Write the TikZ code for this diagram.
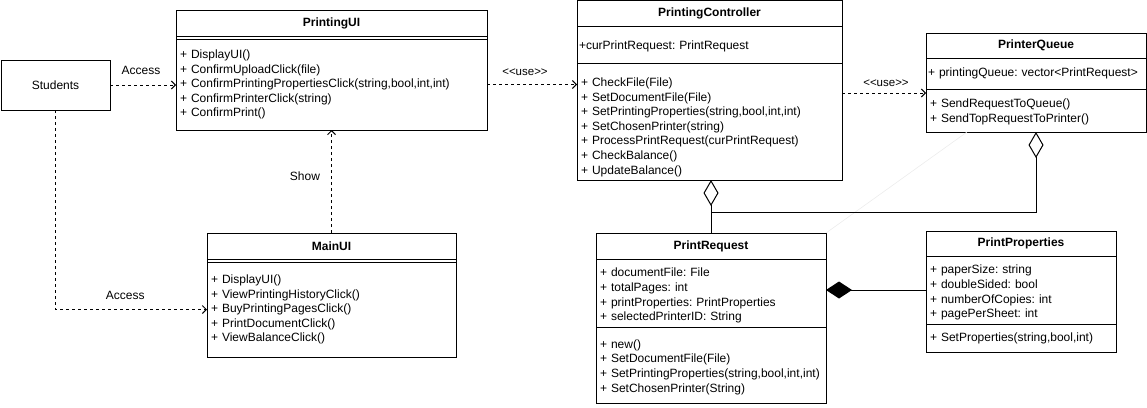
\documentclass[tikz,border=0pt]{standalone}
\usepackage{fontspec}
\setmainfont{Liberation Sans}
\usetikzlibrary{arrows.meta,positioning}
\frenchspacing

\tikzset{
  umlhead/.style={draw, anchor=north west, outer sep=0pt, inner sep=0pt,
    font=\fontsize{12}{14.6}\selectfont\bfseries, minimum width=#1},
  umlpart/.style={draw, anchor=north west, outer sep=0pt, inner xsep=4pt,
    inner ysep=0pt, align=left, text width=#1},
  depend/.style={dash pattern=on 3pt off 3pt,
    -{Straight Barb[length=4pt,width=8pt]}},
  aggr/.style={{Diamond[open,length=26pt,width=15pt]}-},
  compo/.style={{Diamond[length=26pt,width=17pt]}-},
  lbl/.style={inner sep=1pt}
}

\begin{document}
\begin{tikzpicture}[x=1pt,y=-1pt,line width=1pt,
  font=\fontsize{12}{14.6}\selectfont]
\useasboundingbox (0,0) rectangle (1147,407);

% actor
\node[draw, outer sep=0pt, minimum width=109pt, minimum height=50pt]
  (students) at (55.5,85) {Students};

% PrintingUI
\node[umlhead=311pt, minimum height=26pt] (uiH) at (176,10) {PrintingUI};
\node[umlpart=303pt, minimum height=3pt] (uiA) at (uiH.south west) {};
\node[umlpart=303pt, minimum height=91pt] (uiM) at (uiA.south west)
  {+ DisplayUI()\\
   + ConfirmUploadClick(file)\\
   + ConfirmPrintingPropertiesClick(string,bool,int,int)\\
   + ConfirmPrinterClick(string)\\
   + ConfirmPrint()};

% MainUI
\node[umlhead=249pt, minimum height=26pt] (mainH) at (207,233) {MainUI};
\node[umlpart=241pt, minimum height=3pt] (mainA) at (mainH.south west) {};
\node[umlpart=241pt, minimum height=95pt] (mainM) at (mainA.south west)
  {+ DisplayUI()\\
   + ViewPrintingHistoryClick()\\
   + BuyPrintingPagesClick()\\
   + PrintDocumentClick()\\
   + ViewBalanceClick()};

% PrintingController
\node[umlhead=265pt, minimum height=25.5pt] (ctrlH) at (577,0.5) {PrintingController};
\node[umlpart=261pt, inner xsep=2pt, minimum height=37pt] (ctrlA) at (ctrlH.south west)
  {\rule{0pt}{13pt}+curPrintRequest: PrintRequest};
\node[umlpart=257pt, minimum height=117pt] (ctrlM) at (ctrlA.south west)
  {\rule{0pt}{20pt}+ CheckFile(File)\\
   + SetDocumentFile(File)\\
   + SetPrintingProperties(string,bool,int,int)\\
   + SetChosenPrinter(string)\\
   + ProcessPrintRequest(curPrintRequest)\\
   + CheckBalance()\\
   + UpdateBalance()};

% PrinterQueue
\node[umlhead=220pt, minimum height=25pt] (queueH) at (926,33) {PrinterQueue};
\node[umlpart=216pt, inner xsep=2pt, minimum height=31pt] (queueA) at (queueH.south west)
  {+~printingQueue:~vector<PrintRequest>};
\node[umlpart=212pt, minimum height=43pt] (queueM) at (queueA.south west)
  {\rule{0pt}{12pt}+ SendRequestToQueue()\\
   + SendTopRequestToPrinter()};

% PrintRequest
\node[umlhead=230pt, minimum height=26pt] (reqH) at (596,233) {PrintRequest};
\node[umlpart=222pt, minimum height=68pt] (reqA) at (reqH.south west)
  {\rule{0pt}{14pt}+ documentFile: File\\
   + totalPages: int\\
   + printProperties: PrintProperties\\
   + selectedPrinterID: String};
\node[umlpart=222pt, minimum height=76pt] (reqM) at (reqA.south west)
  {\rule{0pt}{13pt}+ new()\\
   + SetDocumentFile(File)\\
   + SetPrintingProperties(string,bool,int,int)\\
   + SetChosenPrinter(String)};

% PrintProperties
\node[umlhead=190pt, minimum height=25pt] (propsH) at (926,231) {PrintProperties};
\node[umlpart=182pt, minimum height=68pt] (propsA) at (propsH.south west)
  {\rule{0pt}{14pt}+ paperSize: string\\
   + doubleSided: bool\\
   + numberOfCopies: int\\
   + pagePerSheet: int};
\node[umlpart=182pt, minimum height=28pt] (propsM) at (propsA.south west)
  {+ SetProperties(string,bool,int)};

% connectors
\coordinate (qin) at ([yshift=-4pt]queueM.north west);
\coordinate (bend) at ([yshift=21pt]reqH.north);

\draw[gray!15, line width=0.6pt] (reqH.north east) -- ([xshift=41pt]queueM.south west);

\draw[depend] (students.east) -- (students.east -| uiM.west)
  node[lbl, midway, above=9pt, xshift=-2pt] (accA) {Access};
\draw[depend] (students.south) |- (mainM.west)
  node[lbl, pos=0.73, above=8pt] (accB) {Access};
\draw[depend] (mainH.north) -- (mainH.north |- uiM.south)
  node[lbl, pos=0.55, left=10pt] (show) {Show};
\draw[depend] (uiM.east) -- (uiM.east -| ctrlM.west)
  node[lbl, midway, above=7pt, xshift=-7pt, font=\fontsize{11.5}{13}\selectfont] (useA) {<{}<use>{}>};
\draw[depend] (qin -| ctrlM.east) -- (qin)
  node[lbl, midway, above=5pt, xshift=2pt, font=\fontsize{11.5}{13}\selectfont] (useB) {<{}<use>{}>};

\draw[aggr] (reqH.north |- ctrlM.south) -- (reqH.north);
\draw[aggr] (queueM.south) |- (bend);
\draw[compo] (reqA.east |- propsA.west) -- (propsA.west);
\end{tikzpicture}
\end{document}
